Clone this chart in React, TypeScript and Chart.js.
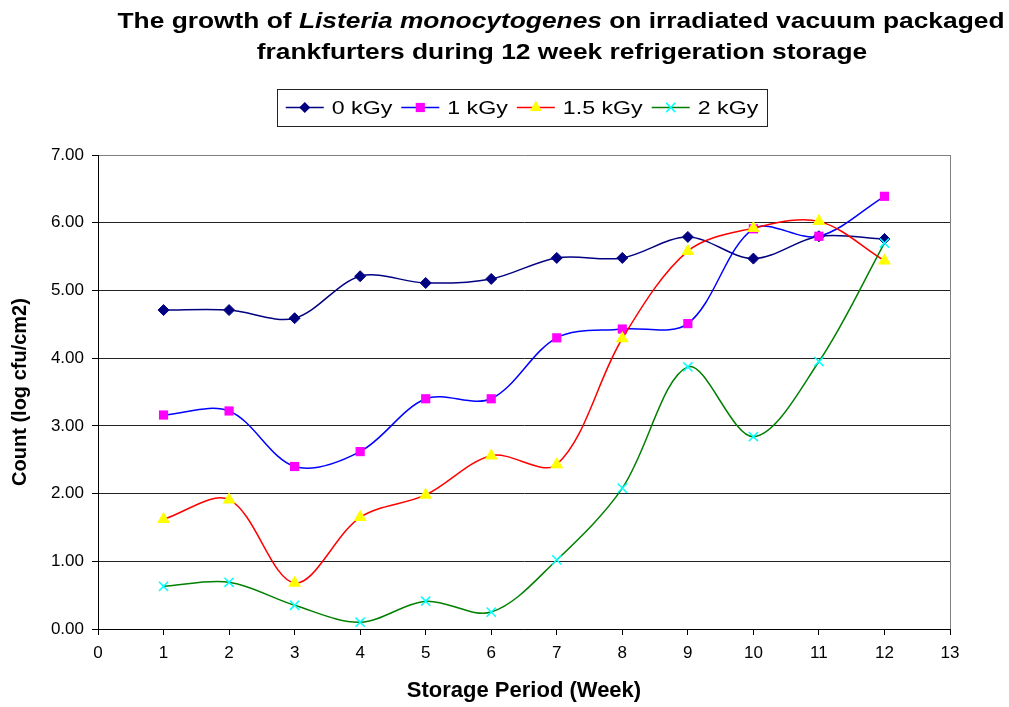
import React, { useEffect, useRef } from "react";
import { Chart, registerables } from "chart.js";

Chart.register(...registerables);

const weeks: number[] = [1, 2, 3, 4, 5, 6, 7, 8, 9, 10, 11, 12];
const dose0: number[] = [4.71, 4.71, 4.59, 5.21, 5.11, 5.17, 5.48, 5.48, 5.79, 5.47, 5.8, 5.76];
const dose1: number[] = [3.16, 3.22, 2.4, 2.62, 3.4, 3.4, 4.3, 4.43, 4.51, 5.91, 5.8, 6.39];
const dose15: number[] = [1.62, 1.91, 0.68, 1.65, 1.98, 2.56, 2.43, 4.29, 5.58, 5.92, 6.02, 5.44];
const dose2: number[] = [0.63, 0.69, 0.35, 0.1, 0.41, 0.25, 1.02, 2.08, 3.87, 2.84, 3.95, 5.7];
const seriesLabels: string[] = ["0 kGy", "1 kGy", "1.5 kGy", "2 kGy"];

const FONT = 'Arial, "Liberation Sans", sans-serif';

const W = 1009;
const H = 707;

function drawMarker(ctx: CanvasRenderingContext2D, style: string, x: number, y: number, r: number, fill: string, stroke: string) {
  ctx.save();
  ctx.fillStyle = fill;
  ctx.strokeStyle = stroke;
  ctx.lineWidth = 1.5;
  ctx.beginPath();
  if (style === "rectRot") {
    ctx.moveTo(x, y - r);
    ctx.lineTo(x + r, y);
    ctx.lineTo(x, y + r);
    ctx.lineTo(x - r, y);
    ctx.closePath();
    ctx.fill();
  } else if (style === "rect") {
    const s = r * Math.SQRT1_2;
    ctx.rect(x - s, y - s, 2 * s, 2 * s);
    ctx.fill();
  } else if (style === "triangle") {
    const side = r * 1.6;
    const h = side * Math.sqrt(3) / 2;
    ctx.moveTo(x, y - h * 2 / 3);
    ctx.lineTo(x + side / 2, y + h / 3);
    ctx.lineTo(x - side / 2, y + h / 3);
    ctx.closePath();
    ctx.fill();
  } else if (style === "crossRot") {
    const o = r * Math.SQRT1_2;
    ctx.moveTo(x - o, y - o);
    ctx.lineTo(x + o, y + o);
    ctx.moveTo(x + o, y - o);
    ctx.lineTo(x - o, y + o);
    ctx.stroke();
  }
  ctx.restore();
}

const decorPlugin = {
  id: "decor",
  afterDraw(chart: any) {
    const ctx: CanvasRenderingContext2D = chart.ctx;
    const area = chart.chartArea;
    ctx.save();
    // right border of plot area
    ctx.strokeStyle = "#808080";
    ctx.lineWidth = 1;
    ctx.beginPath();
    ctx.moveTo(Math.round(area.right) + 0.5, area.top);
    ctx.lineTo(Math.round(area.right) + 0.5, area.bottom);
    ctx.stroke();

    // title (horizontally stretched like the original)
    ctx.fillStyle = "#000";
    ctx.textBaseline = "middle";
    ctx.textAlign = "left";
    const size = 22;
    const bold = `bold ${size}px ${FONT}`;
    const boldItalic = `italic bold ${size}px ${FONT}`;
    const seg1: [string, string][] = [
      ["The growth of ", bold],
      ["Listeria monocytogenes", boldItalic],
      [" on irradiated vacuum packaged", bold],
    ];
    let total = 0;
    for (const [t, f] of seg1) {
      ctx.font = f;
      total += ctx.measureText(t).width;
    }
    const sx = 887 / total;
    ctx.save();
    ctx.translate(561, 22);
    ctx.scale(sx, 1);
    let x = -total / 2;
    for (const [t, f] of seg1) {
      ctx.font = f;
      ctx.fillText(t, x, 0);
      x += ctx.measureText(t).width;
    }
    ctx.restore();
    ctx.save();
    ctx.translate(562, 53);
    ctx.scale(sx, 1);
    ctx.font = bold;
    ctx.textAlign = "center";
    ctx.fillText("frankfurters during 12 week refrigeration storage", 0, 0);
    ctx.restore();

    // legend
    const lfont = `19px ${FONT}`;
    const lsx = 1.22;
    ctx.font = lfont;
    const lineLen = 38;
    const gapText = 8;
    const gapItem = 9;
    const ds = chart.data.datasets;
    const widths = ds.map((d: any) => ctx.measureText(d.label).width * lsx);
    let totalW = 0;
    widths.forEach((w: number, i: number) => {
      totalW += lineLen + gapText + w + (i < widths.length - 1 ? gapItem : 0);
    });
    const boxPad = 9;
    const cx = 522;
    const boxLeft = Math.round(cx - totalW / 2 - boxPad);
    const boxRight = Math.round(cx + totalW / 2 + boxPad);
    const boxTop = 89;
    const boxBottom = 126;
    ctx.strokeStyle = "#222";
    ctx.lineWidth = 1;
    ctx.strokeRect(boxLeft + 0.5, boxTop + 0.5, boxRight - boxLeft, boxBottom - boxTop);
    const ly = 107.5;
    let lx = cx - totalW / 2;
    ctx.textAlign = "left";
    ds.forEach((d: any, i: number) => {
      ctx.strokeStyle = d.borderColor;
      ctx.lineWidth = 1.5;
      ctx.beginPath();
      ctx.moveTo(lx, ly);
      ctx.lineTo(lx + lineLen, ly);
      ctx.stroke();
      drawMarker(ctx, d.pointStyle, lx + lineLen / 2, ly, d.pointRadius, d.pointBackgroundColor, d.pointBorderColor);
      lx += lineLen + gapText;
      ctx.save();
      ctx.translate(lx, ly + 1);
      ctx.scale(lsx, 1);
      ctx.fillStyle = "#000";
      ctx.font = lfont;
      ctx.fillText(d.label, 0, 0);
      ctx.restore();
      lx += widths[i] + gapItem;
    });
    ctx.restore();
  },
};

export default function App() {
  const ref = useRef<HTMLCanvasElement | null>(null);

  useEffect(() => {
    document.body.style.margin = "0";
    const canvas = ref.current;
    if (!canvas) return;
    const mk = (vals: number[]) => weeks.map((w, i) => ({ x: w, y: vals[i] }));
    const chart = new Chart(canvas, {
      type: "line",
      data: {
        datasets: [
          {
            label: seriesLabels[0],
            data: mk(dose0),
            borderColor: "#000080",
            borderWidth: 1.5,
            pointStyle: "rectRot",
            pointRadius: 5.5,
            pointBackgroundColor: "#000080",
            pointBorderColor: "#000080",
            pointBorderWidth: 1,
            tension: 0.33,
            order: 4,
          },
          {
            label: seriesLabels[1],
            data: mk(dose1),
            borderColor: "#0000FF",
            borderWidth: 1.5,
            pointStyle: "rect",
            pointRadius: 6.5,
            pointBackgroundColor: "#FF00FF",
            pointBorderColor: "#FF00FF",
            pointBorderWidth: 0,
            tension: 0.33,
            order: 3,
          },
          {
            label: seriesLabels[2],
            data: mk(dose15),
            borderColor: "#FF0000",
            borderWidth: 1.5,
            pointStyle: "triangle",
            pointRadius: 7.5,
            pointBackgroundColor: "#FFFF00",
            pointBorderColor: "#FFFF00",
            pointBorderWidth: 0,
            tension: 0.33,
            order: 2,
          },
          {
            label: seriesLabels[3],
            data: mk(dose2),
            borderColor: "#008000",
            borderWidth: 1.5,
            pointStyle: "crossRot",
            pointRadius: 6.5,
            pointBackgroundColor: "#00FFFF",
            pointBorderColor: "#00FFFF",
            pointBorderWidth: 1.5,
            tension: 0.33,
            order: 1,
          },
        ] as any,
      },
      options: {
        animation: false,
        responsive: false,
        maintainAspectRatio: false,
        layout: { padding: { top: 155, right: 59, left: 0, bottom: 0 } },
        plugins: {
          legend: { display: false },
          title: { display: false },
          tooltip: { enabled: false },
        },
        scales: {
          x: {
            type: "linear",
            min: 0,
            max: 13,
            afterFit: (s: any) => {
              s.height = 78;
            },
            ticks: {
              stepSize: 1,
              color: "#000",
              font: { family: FONT, size: 17 },
              padding: 8,
              maxRotation: 0,
            },
            grid: {
              drawOnChartArea: false,
              drawTicks: true,
              tickLength: 6,
              tickColor: "#000",
            },
            border: { color: "#000", width: 1 },
            title: {
              display: true,
              text: "Storage Period (Week)",
              color: "#000",
              font: { family: FONT, size: 22, weight: "bold" },
              padding: { top: 0, bottom: 3 },
            },
          },
          y: {
            type: "linear",
            min: 0,
            max: 7,
            afterFit: (s: any) => {
              s.width = 98;
            },
            ticks: {
              stepSize: 1,
              color: "#000",
              font: { family: FONT, size: 17 },
              padding: 8,
              callback: (v: any) => Number(v).toFixed(2),
            },
            grid: {
              color: (c: any) => (c.tick && c.tick.value === 7 ? "#808080" : "#222"),
              drawTicks: true,
              tickLength: 6,
              tickColor: "#000",
              lineWidth: 1,
            },
            border: { color: "#000", width: 1 },
            title: {
              display: true,
              text: "Count (log cfu/cm2)",
              color: "#000",
              font: { family: FONT, size: 20, weight: "bold" },
              padding: { top: 8, bottom: 0 },
            },
          },
        },
      } as any,
      plugins: [decorPlugin],
    });
    return () => chart.destroy();
  }, []);

  return (
    <div style={{ width: W, height: H, background: "#fff" }}>
      <canvas ref={ref} width={W} height={H} style={{ width: W, height: H, display: "block" }} />
    </div>
  );
}
